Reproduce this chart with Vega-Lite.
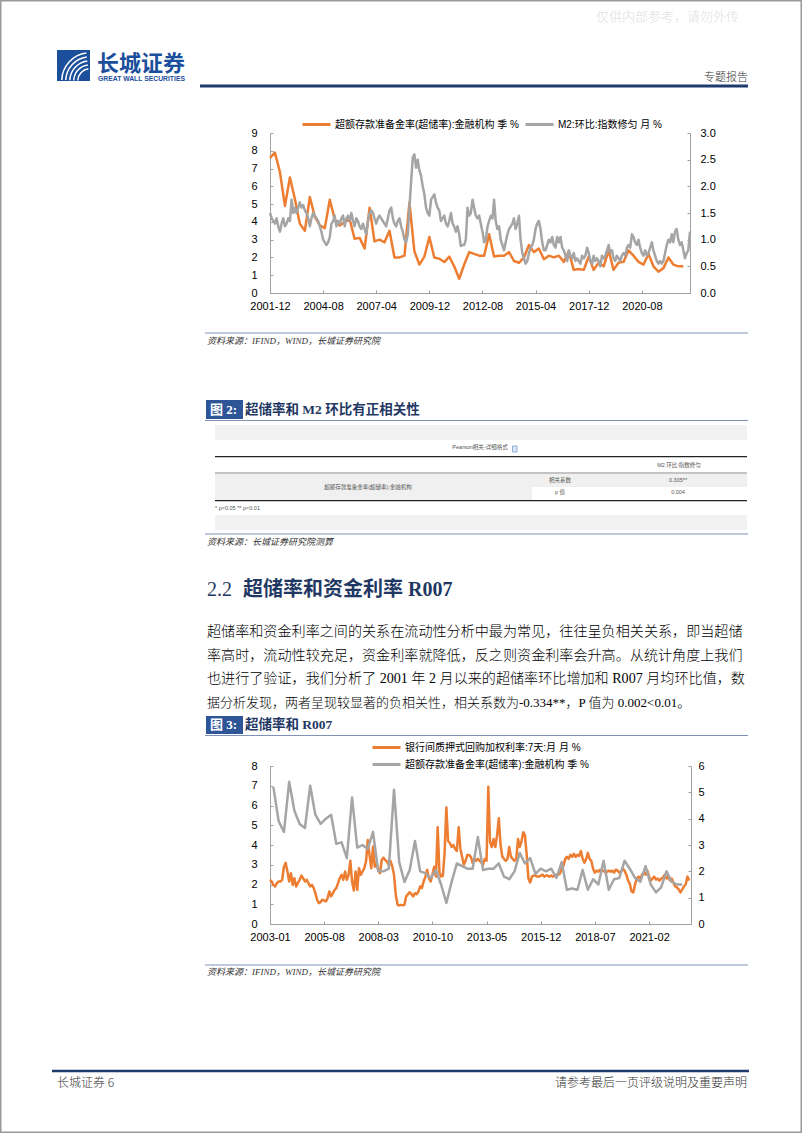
{
"$schema":"https://vega.github.io/schema/vega-lite/v6.json",
"width":802,"height":1133,"autosize":{"type":"none"},"padding":0,"background":"#ffffff",
"config":{"view":{"stroke":null}},
"datasets":{
"er":[{"t":"2001-12","v":7.6},{"t":"2002-03","v":7.9},{"t":"2002-06","v":6.8},{"t":"2002-09","v":4.9},{"t":"2002-12","v":6.5},{"t":"2003-03","v":5.3},{"t":"2003-06","v":3.9},{"t":"2003-09","v":3.5},{"t":"2003-12","v":5.4},{"t":"2004-03","v":4.3},{"t":"2004-06","v":3.8},{"t":"2004-09","v":3.65},{"t":"2004-12","v":5.25},{"t":"2005-03","v":4.15},{"t":"2005-06","v":3.8},{"t":"2005-09","v":4.0},{"t":"2005-12","v":4.15},{"t":"2006-03","v":3.05},{"t":"2006-06","v":3.1},{"t":"2006-09","v":2.5},{"t":"2006-12","v":4.8},{"t":"2007-03","v":2.9},{"t":"2007-06","v":3.0},{"t":"2007-09","v":2.85},{"t":"2007-12","v":3.5},{"t":"2008-03","v":2.0},{"t":"2008-06","v":2.0},{"t":"2008-09","v":2.1},{"t":"2008-12","v":5.1},{"t":"2009-03","v":2.35},{"t":"2009-06","v":1.6},{"t":"2009-09","v":2.05},{"t":"2009-12","v":3.15},{"t":"2010-03","v":2.0},{"t":"2010-06","v":1.93},{"t":"2010-09","v":1.74},{"t":"2010-12","v":2.05},{"t":"2011-03","v":1.5},{"t":"2011-06","v":0.8},{"t":"2011-09","v":1.6},{"t":"2011-12","v":2.3},{"t":"2012-03","v":2.2},{"t":"2012-06","v":2.1},{"t":"2012-09","v":2.1},{"t":"2012-12","v":3.3},{"t":"2013-03","v":2.05},{"t":"2013-06","v":2.1},{"t":"2013-09","v":2.1},{"t":"2013-12","v":2.3},{"t":"2014-03","v":1.8},{"t":"2014-06","v":1.7},{"t":"2014-09","v":2.0},{"t":"2014-12","v":2.7},{"t":"2015-03","v":2.3},{"t":"2015-06","v":2.5},{"t":"2015-09","v":1.9},{"t":"2015-12","v":2.1},{"t":"2016-03","v":2.0},{"t":"2016-06","v":2.1},{"t":"2016-09","v":1.75},{"t":"2016-12","v":2.35},{"t":"2017-03","v":1.3},{"t":"2017-06","v":1.35},{"t":"2017-09","v":1.3},{"t":"2017-12","v":2.05},{"t":"2018-03","v":1.3},{"t":"2018-06","v":1.7},{"t":"2018-09","v":1.5},{"t":"2018-12","v":2.4},{"t":"2019-03","v":1.3},{"t":"2019-06","v":1.7},{"t":"2019-09","v":1.75},{"t":"2019-12","v":2.4},{"t":"2020-03","v":2.1},{"t":"2020-06","v":1.75},{"t":"2020-09","v":1.6},{"t":"2020-12","v":2.2},{"t":"2021-03","v":1.5},{"t":"2021-06","v":1.2},{"t":"2021-09","v":1.4},{"t":"2021-12","v":2.0},{"t":"2022-03","v":1.6},{"t":"2022-06","v":1.5},{"t":"2022-09","v":1.5}],
"er3":[{"t":"2003-03","v":5.2},{"t":"2003-06","v":3.9},{"t":"2003-09","v":3.5},{"t":"2003-12","v":5.4},{"t":"2004-03","v":4.3},{"t":"2004-06","v":3.8},{"t":"2004-09","v":3.65},{"t":"2004-12","v":5.25},{"t":"2005-03","v":4.15},{"t":"2005-06","v":3.8},{"t":"2005-09","v":4.0},{"t":"2005-12","v":4.15},{"t":"2006-03","v":3.05},{"t":"2006-06","v":3.1},{"t":"2006-09","v":2.5},{"t":"2006-12","v":4.8},{"t":"2007-03","v":2.9},{"t":"2007-06","v":3.0},{"t":"2007-09","v":2.85},{"t":"2007-12","v":3.5},{"t":"2008-03","v":2.0},{"t":"2008-06","v":2.0},{"t":"2008-09","v":2.1},{"t":"2008-12","v":5.1},{"t":"2009-03","v":2.35},{"t":"2009-06","v":1.6},{"t":"2009-09","v":2.05},{"t":"2009-12","v":3.15},{"t":"2010-03","v":2.0},{"t":"2010-06","v":1.93},{"t":"2010-09","v":1.74},{"t":"2010-12","v":2.05},{"t":"2011-03","v":1.5},{"t":"2011-06","v":0.8},{"t":"2011-09","v":1.6},{"t":"2011-12","v":2.3},{"t":"2012-03","v":2.2},{"t":"2012-06","v":2.1},{"t":"2012-09","v":2.1},{"t":"2012-12","v":3.3},{"t":"2013-03","v":2.05},{"t":"2013-06","v":2.1},{"t":"2013-09","v":2.1},{"t":"2013-12","v":2.3},{"t":"2014-03","v":1.8},{"t":"2014-06","v":1.7},{"t":"2014-09","v":2.0},{"t":"2014-12","v":2.7},{"t":"2015-03","v":2.3},{"t":"2015-06","v":2.5},{"t":"2015-09","v":1.9},{"t":"2015-12","v":2.1},{"t":"2016-03","v":2.0},{"t":"2016-06","v":2.1},{"t":"2016-09","v":1.75},{"t":"2016-12","v":2.35},{"t":"2017-03","v":1.3},{"t":"2017-06","v":1.35},{"t":"2017-09","v":1.3},{"t":"2017-12","v":2.05},{"t":"2018-03","v":1.3},{"t":"2018-06","v":1.7},{"t":"2018-09","v":1.5},{"t":"2018-12","v":2.4},{"t":"2019-03","v":1.3},{"t":"2019-06","v":1.7},{"t":"2019-09","v":1.75},{"t":"2019-12","v":2.4},{"t":"2020-03","v":2.1},{"t":"2020-06","v":1.75},{"t":"2020-09","v":1.6},{"t":"2020-12","v":2.2},{"t":"2021-03","v":1.5},{"t":"2021-06","v":1.2},{"t":"2021-09","v":1.4},{"t":"2021-12","v":2.0},{"t":"2022-03","v":1.6},{"t":"2022-06","v":1.5},{"t":"2022-09","v":1.5}],
"m2":[{"t":"2001-12","v":1.5},{"t":"2002-01","v":1.4},{"t":"2002-02","v":1.35},{"t":"2002-03","v":1.3},{"t":"2002-04","v":1.4},{"t":"2002-05","v":1.25},{"t":"2002-06","v":1.15},{"t":"2002-07","v":1.3},{"t":"2002-08","v":1.4},{"t":"2002-09","v":1.25},{"t":"2002-10","v":1.3},{"t":"2002-11","v":1.4},{"t":"2002-12","v":1.35},
{"t":"2003-01","v":1.75},{"t":"2003-02","v":1.5},{"t":"2003-03","v":1.6},{"t":"2003-04","v":1.5},{"t":"2003-05","v":1.6},{"t":"2003-06","v":1.7},{"t":"2003-07","v":1.6},{"t":"2003-08","v":1.65},{"t":"2003-09","v":1.55},{"t":"2003-10","v":1.5},{"t":"2003-11","v":1.4},{"t":"2003-12","v":1.25},
{"t":"2004-01","v":1.4},{"t":"2004-02","v":1.5},{"t":"2004-03","v":1.45},{"t":"2004-04","v":1.4},{"t":"2004-05","v":1.35},{"t":"2004-06","v":1.25},{"t":"2004-07","v":1.15},{"t":"2004-08","v":1.0},{"t":"2004-09","v":0.95},{"t":"2004-10","v":0.9},{"t":"2004-11","v":0.95},{"t":"2004-12","v":1.05},
{"t":"2005-01","v":1.3},{"t":"2005-02","v":1.35},{"t":"2005-03","v":1.45},{"t":"2005-04","v":1.25},{"t":"2005-05","v":1.35},{"t":"2005-06","v":1.3},{"t":"2005-07","v":1.4},{"t":"2005-08","v":1.45},{"t":"2005-09","v":1.25},{"t":"2005-10","v":1.4},{"t":"2005-11","v":1.45},{"t":"2005-12","v":1.35},
{"t":"2006-01","v":1.5},{"t":"2006-02","v":1.35},{"t":"2006-03","v":1.25},{"t":"2006-04","v":1.4},{"t":"2006-05","v":1.35},{"t":"2006-06","v":1.25},{"t":"2006-07","v":1.2},{"t":"2006-08","v":1.3},{"t":"2006-09","v":1.2},{"t":"2006-10","v":1.1},{"t":"2006-11","v":1.35},{"t":"2006-12","v":1.5},
{"t":"2007-01","v":1.55},{"t":"2007-02","v":1.5},{"t":"2007-03","v":1.4},{"t":"2007-04","v":1.3},{"t":"2007-05","v":1.4},{"t":"2007-06","v":1.45},{"t":"2007-07","v":1.4},{"t":"2007-08","v":1.35},{"t":"2007-09","v":1.3},{"t":"2007-10","v":1.25},{"t":"2007-11","v":1.4},{"t":"2007-12","v":1.55},
{"t":"2008-01","v":1.6},{"t":"2008-02","v":1.4},{"t":"2008-03","v":1.3},{"t":"2008-04","v":1.25},{"t":"2008-05","v":1.35},{"t":"2008-06","v":1.4},{"t":"2008-07","v":1.25},{"t":"2008-08","v":1.15},{"t":"2008-09","v":1.0},{"t":"2008-10","v":0.95},{"t":"2008-11","v":1.1},{"t":"2008-12","v":1.6},
{"t":"2009-01","v":2.1},{"t":"2009-02","v":2.55},{"t":"2009-03","v":2.6},{"t":"2009-04","v":2.35},{"t":"2009-05","v":2.5},{"t":"2009-06","v":2.3},{"t":"2009-07","v":2.2},{"t":"2009-08","v":2.0},{"t":"2009-09","v":1.85},{"t":"2009-10","v":1.6},{"t":"2009-11","v":1.5},{"t":"2009-12","v":1.45},
{"t":"2010-01","v":1.75},{"t":"2010-02","v":1.8},{"t":"2010-03","v":1.85},{"t":"2010-04","v":1.7},{"t":"2010-05","v":1.6},{"t":"2010-06","v":1.55},{"t":"2010-07","v":1.35},{"t":"2010-08","v":1.4},{"t":"2010-09","v":1.45},{"t":"2010-10","v":1.3},{"t":"2010-11","v":1.25},{"t":"2010-12","v":1.35},
{"t":"2011-01","v":1.5},{"t":"2011-02","v":1.3},{"t":"2011-03","v":1.25},{"t":"2011-04","v":1.15},{"t":"2011-05","v":1.25},{"t":"2011-06","v":1.1},{"t":"2011-07","v":0.88},{"t":"2011-08","v":0.9},{"t":"2011-09","v":0.9},{"t":"2011-10","v":1.0},{"t":"2011-11","v":1.6},{"t":"2011-12","v":1.45},
{"t":"2012-01","v":1.5},{"t":"2012-02","v":1.75},{"t":"2012-03","v":1.6},{"t":"2012-04","v":1.45},{"t":"2012-05","v":1.4},{"t":"2012-06","v":1.45},{"t":"2012-07","v":1.3},{"t":"2012-08","v":1.15},{"t":"2012-09","v":0.95},{"t":"2012-10","v":1.0},{"t":"2012-11","v":1.25},{"t":"2012-12","v":1.35},
{"t":"2013-01","v":1.45},{"t":"2013-02","v":1.4},{"t":"2013-03","v":1.75},{"t":"2013-04","v":1.35},{"t":"2013-05","v":1.2},{"t":"2013-06","v":1.25},{"t":"2013-07","v":1.0},{"t":"2013-08","v":0.9},{"t":"2013-09","v":0.8},{"t":"2013-10","v":0.95},{"t":"2013-11","v":1.1},{"t":"2013-12","v":1.2},
{"t":"2014-01","v":1.25},{"t":"2014-02","v":1.3},{"t":"2014-03","v":1.4},{"t":"2014-04","v":1.2},{"t":"2014-05","v":1.3},{"t":"2014-06","v":1.45},{"t":"2014-07","v":1.0},{"t":"2014-08","v":0.75},{"t":"2014-09","v":0.65},{"t":"2014-10","v":0.55},{"t":"2014-11","v":0.6},{"t":"2014-12","v":0.75},
{"t":"2015-01","v":0.85},{"t":"2015-02","v":0.9},{"t":"2015-03","v":1.0},{"t":"2015-04","v":1.2},{"t":"2015-05","v":1.3},{"t":"2015-06","v":1.35},{"t":"2015-07","v":1.2},{"t":"2015-08","v":0.95},{"t":"2015-09","v":0.8},{"t":"2015-10","v":0.8},{"t":"2015-11","v":0.9},{"t":"2015-12","v":1.0},
{"t":"2016-01","v":0.95},{"t":"2016-02","v":1.05},{"t":"2016-03","v":0.9},{"t":"2016-04","v":0.85},{"t":"2016-05","v":1.05},{"t":"2016-06","v":0.95},{"t":"2016-07","v":1.05},{"t":"2016-08","v":0.85},{"t":"2016-09","v":0.8},{"t":"2016-10","v":0.7},{"t":"2016-11","v":0.6},{"t":"2016-12","v":0.8},
{"t":"2017-01","v":0.7},{"t":"2017-02","v":0.65},{"t":"2017-03","v":0.75},{"t":"2017-04","v":0.6},{"t":"2017-05","v":0.65},{"t":"2017-06","v":0.6},{"t":"2017-07","v":0.55},{"t":"2017-08","v":0.7},{"t":"2017-09","v":0.65},{"t":"2017-10","v":0.7},{"t":"2017-11","v":0.85},{"t":"2017-12","v":0.75},
{"t":"2018-01","v":0.6},{"t":"2018-02","v":0.55},{"t":"2018-03","v":0.7},{"t":"2018-04","v":0.6},{"t":"2018-05","v":0.65},{"t":"2018-06","v":0.6},{"t":"2018-07","v":0.5},{"t":"2018-08","v":0.7},{"t":"2018-09","v":0.65},{"t":"2018-10","v":0.7},{"t":"2018-11","v":0.8},{"t":"2018-12","v":0.9},
{"t":"2019-01","v":0.75},{"t":"2019-02","v":0.8},{"t":"2019-03","v":0.65},{"t":"2019-04","v":0.6},{"t":"2019-05","v":0.7},{"t":"2019-06","v":0.65},{"t":"2019-07","v":0.6},{"t":"2019-08","v":0.7},{"t":"2019-09","v":0.75},{"t":"2019-10","v":0.7},{"t":"2019-11","v":0.85},{"t":"2019-12","v":0.9},
{"t":"2020-01","v":0.85},{"t":"2020-02","v":1.1},{"t":"2020-03","v":1.05},{"t":"2020-04","v":0.95},{"t":"2020-05","v":0.9},{"t":"2020-06","v":1.0},{"t":"2020-07","v":0.85},{"t":"2020-08","v":0.75},{"t":"2020-09","v":0.7},{"t":"2020-10","v":0.8},{"t":"2020-11","v":0.7},{"t":"2020-12","v":0.75},
{"t":"2021-01","v":0.85},{"t":"2021-02","v":0.95},{"t":"2021-03","v":0.8},{"t":"2021-04","v":0.7},{"t":"2021-05","v":0.6},{"t":"2021-06","v":0.55},{"t":"2021-07","v":0.6},{"t":"2021-08","v":0.55},{"t":"2021-09","v":0.6},{"t":"2021-10","v":0.75},{"t":"2021-11","v":0.9},{"t":"2021-12","v":1.0},
{"t":"2022-01","v":0.95},{"t":"2022-02","v":1.1},{"t":"2022-03","v":0.95},{"t":"2022-04","v":1.15},{"t":"2022-05","v":1.2},{"t":"2022-06","v":1.0},{"t":"2022-07","v":0.9},{"t":"2022-08","v":0.95},{"t":"2022-09","v":0.8},{"t":"2022-10","v":0.65},{"t":"2022-11","v":0.75},{"t":"2022-12","v":0.8},{"t":"2023-01","v":1.15}],
"r007":[{"t":"2003-01","v":2.24},{"t":"2003-02","v":2.15},{"t":"2003-03","v":1.98},{"t":"2003-04","v":1.9},{"t":"2003-05","v":2.07},{"t":"2003-06","v":2.15},{"t":"2003-07","v":2.15},{"t":"2003-08","v":2.24},{"t":"2003-09","v":2.9},{"t":"2003-10","v":3.1},{"t":"2003-11","v":2.66},{"t":"2003-12","v":2.15},
{"t":"2004-01","v":2.57},{"t":"2004-02","v":1.98},{"t":"2004-03","v":2.32},{"t":"2004-04","v":1.9},{"t":"2004-05","v":2.07},{"t":"2004-06","v":2.24},{"t":"2004-07","v":2.45},{"t":"2004-08","v":2.32},{"t":"2004-09","v":2.15},{"t":"2004-10","v":2.24},{"t":"2004-11","v":2.07},{"t":"2004-12","v":1.9},
{"t":"2005-01","v":1.98},{"t":"2005-02","v":1.82},{"t":"2005-03","v":1.56},{"t":"2005-04","v":1.23},{"t":"2005-05","v":1.06},{"t":"2005-06","v":1.11},{"t":"2005-07","v":1.23},{"t":"2005-08","v":1.19},{"t":"2005-09","v":1.14},{"t":"2005-10","v":1.31},{"t":"2005-11","v":1.65},{"t":"2005-12","v":1.4},
{"t":"2006-01","v":1.56},{"t":"2006-02","v":1.73},{"t":"2006-03","v":1.82},{"t":"2006-04","v":2.07},{"t":"2006-05","v":2.32},{"t":"2006-06","v":2.49},{"t":"2006-07","v":2.24},{"t":"2006-08","v":2.66},{"t":"2006-09","v":2.24},{"t":"2006-10","v":2.49},{"t":"2006-11","v":3.2},{"t":"2006-12","v":2.15},
{"t":"2007-01","v":1.7},{"t":"2007-02","v":2.66},{"t":"2007-03","v":1.73},{"t":"2007-04","v":2.82},{"t":"2007-05","v":2.49},{"t":"2007-06","v":2.66},{"t":"2007-07","v":2.82},{"t":"2007-08","v":3.16},{"t":"2007-09","v":4.25},{"t":"2007-10","v":3.5},{"t":"2007-11","v":2.82},{"t":"2007-12","v":3.92},
{"t":"2008-01","v":2.9},{"t":"2008-02","v":3.08},{"t":"2008-03","v":2.74},{"t":"2008-04","v":2.57},{"t":"2008-05","v":3.24},{"t":"2008-06","v":3.36},{"t":"2008-07","v":3.24},{"t":"2008-08","v":3.16},{"t":"2008-09","v":2.99},{"t":"2008-10","v":3.19},{"t":"2008-11","v":2.9},{"t":"2008-12","v":2.49},
{"t":"2009-01","v":1.48},{"t":"2009-02","v":0.97},{"t":"2009-03","v":0.94},{"t":"2009-04","v":0.97},{"t":"2009-05","v":0.94},{"t":"2009-06","v":0.97},{"t":"2009-07","v":1.4},{"t":"2009-08","v":1.51},{"t":"2009-09","v":1.61},{"t":"2009-10","v":1.51},{"t":"2009-11","v":1.4},{"t":"2009-12","v":1.56},
{"t":"2010-01","v":1.51},{"t":"2010-02","v":1.65},{"t":"2010-03","v":1.9},{"t":"2010-04","v":1.82},{"t":"2010-05","v":2.15},{"t":"2010-06","v":2.4},{"t":"2010-07","v":2.74},{"t":"2010-08","v":2.32},{"t":"2010-09","v":2.15},{"t":"2010-10","v":2.5},{"t":"2010-11","v":2.9},{"t":"2010-12","v":2.4},
{"t":"2011-01","v":4.9},{"t":"2011-02","v":2.6},{"t":"2011-03","v":2.4},{"t":"2011-04","v":2.45},{"t":"2011-05","v":3.6},{"t":"2011-06","v":5.9},{"t":"2011-07","v":4.2},{"t":"2011-08","v":4.1},{"t":"2011-09","v":3.9},{"t":"2011-10","v":4.0},{"t":"2011-11","v":3.8},{"t":"2011-12","v":3.7},
{"t":"2012-01","v":4.9},{"t":"2012-02","v":3.8},{"t":"2012-03","v":3.4},{"t":"2012-04","v":3.0},{"t":"2012-05","v":3.2},{"t":"2012-06","v":3.5},{"t":"2012-07","v":3.5},{"t":"2012-08","v":3.4},{"t":"2012-09","v":3.1},{"t":"2012-10","v":3.3},{"t":"2012-11","v":3.2},{"t":"2012-12","v":3.3},
{"t":"2013-01","v":3.2},{"t":"2013-02","v":3.1},{"t":"2013-03","v":3.0},{"t":"2013-04","v":3.3},{"t":"2013-05","v":3.2},{"t":"2013-06","v":6.95},{"t":"2013-07","v":4.15},{"t":"2013-08","v":3.9},{"t":"2013-09","v":4.3},{"t":"2013-10","v":3.9},{"t":"2013-11","v":4.5},{"t":"2013-12","v":5.35},
{"t":"2014-01","v":4.0},{"t":"2014-02","v":3.4},{"t":"2014-03","v":3.3},{"t":"2014-04","v":3.2},{"t":"2014-05","v":3.3},{"t":"2014-06","v":3.9},{"t":"2014-07","v":3.4},{"t":"2014-08","v":3.3},{"t":"2014-09","v":3.2},{"t":"2014-10","v":3.3},{"t":"2014-11","v":4.3},{"t":"2014-12","v":3.9},
{"t":"2015-01","v":4.2},{"t":"2015-02","v":4.65},{"t":"2015-03","v":4.5},{"t":"2015-04","v":3.5},{"t":"2015-05","v":2.3},{"t":"2015-06","v":2.1},{"t":"2015-07","v":2.4},{"t":"2015-08","v":2.45},{"t":"2015-09","v":2.45},{"t":"2015-10","v":2.4},{"t":"2015-11","v":2.4},{"t":"2015-12","v":2.45},
{"t":"2016-01","v":2.5},{"t":"2016-02","v":2.4},{"t":"2016-03","v":2.45},{"t":"2016-04","v":2.45},{"t":"2016-05","v":2.4},{"t":"2016-06","v":2.45},{"t":"2016-07","v":2.4},{"t":"2016-08","v":2.45},{"t":"2016-09","v":2.5},{"t":"2016-10","v":2.5},{"t":"2016-11","v":2.55},{"t":"2016-12","v":2.8},
{"t":"2017-01","v":2.95},{"t":"2017-02","v":3.3},{"t":"2017-03","v":3.4},{"t":"2017-04","v":3.3},{"t":"2017-05","v":3.5},{"t":"2017-06","v":3.4},{"t":"2017-07","v":3.55},{"t":"2017-08","v":3.4},{"t":"2017-09","v":3.5},{"t":"2017-10","v":3.45},{"t":"2017-11","v":3.7},{"t":"2017-12","v":3.3},
{"t":"2018-01","v":3.1},{"t":"2018-02","v":3.3},{"t":"2018-03","v":3.6},{"t":"2018-04","v":3.3},{"t":"2018-05","v":3.2},{"t":"2018-06","v":2.8},{"t":"2018-07","v":2.6},{"t":"2018-08","v":2.7},{"t":"2018-09","v":2.65},{"t":"2018-10","v":2.75},{"t":"2018-11","v":2.7},{"t":"2018-12","v":2.7},
{"t":"2019-01","v":2.6},{"t":"2019-02","v":2.65},{"t":"2019-03","v":2.7},{"t":"2019-04","v":2.65},{"t":"2019-05","v":2.7},{"t":"2019-06","v":2.6},{"t":"2019-07","v":2.75},{"t":"2019-08","v":2.7},{"t":"2019-09","v":2.6},{"t":"2019-10","v":2.65},{"t":"2019-11","v":2.8},{"t":"2019-12","v":2.7},
{"t":"2020-01","v":2.5},{"t":"2020-02","v":2.2},{"t":"2020-03","v":2.05},{"t":"2020-04","v":1.65},{"t":"2020-05","v":1.6},{"t":"2020-06","v":2.0},{"t":"2020-07","v":2.3},{"t":"2020-08","v":2.4},{"t":"2020-09","v":2.3},{"t":"2020-10","v":2.5},{"t":"2020-11","v":2.6},{"t":"2020-12","v":2.5},
{"t":"2021-01","v":2.7},{"t":"2021-02","v":2.4},{"t":"2021-03","v":2.2},{"t":"2021-04","v":2.3},{"t":"2021-05","v":2.4},{"t":"2021-06","v":2.25},{"t":"2021-07","v":2.3},{"t":"2021-08","v":2.2},{"t":"2021-09","v":2.3},{"t":"2021-10","v":2.35},{"t":"2021-11","v":2.5},{"t":"2021-12","v":2.3},
{"t":"2022-01","v":2.4},{"t":"2022-02","v":2.2},{"t":"2022-03","v":2.3},{"t":"2022-04","v":2.1},{"t":"2022-05","v":1.9},{"t":"2022-06","v":1.85},{"t":"2022-07","v":1.75},{"t":"2022-08","v":1.6},{"t":"2022-09","v":1.75},{"t":"2022-10","v":1.9},{"t":"2022-11","v":2.0},{"t":"2022-12","v":2.4},{"t":"2023-01","v":2.2}]
},
"layer":[
{"data":{"values":[{}]},"mark":{"type":"rect","x":0.75,"x2":801.25,"y":0.75,"y2":1132.25,"filled":false,"color":"#9a9a9a","strokeWidth":1.5},"encoding":{}},
{"data":{"values":[{"s":"仅供内部参考，请勿外传"}]},"mark":{"type":"text","x":739,"y":17,"align":"right","baseline":"middle","font":"Noto Sans CJK SC","fontSize":13,"fontWeight":300,"color":"#e0e0e0"},"encoding":{"text":{"field":"s"}}},
{"data":{"values":[{}]},"mark":{"type":"rect","x":57,"x2":90,"y":50,"y2":81,"color":"#1b4f9c"},"encoding":{}},
{"data":{"values":[{}]},"mark":{"type":"arc","x":90,"y":81,"radius":29,"radius2":27.5,"theta":4.75,"theta2":6.15,"color":"#ffffff"},"encoding":{}},
{"data":{"values":[{}]},"mark":{"type":"arc","x":90,"y":81,"radius":25,"radius2":23.5,"theta":4.75,"theta2":6.15,"color":"#ffffff"},"encoding":{}},
{"data":{"values":[{}]},"mark":{"type":"arc","x":90,"y":81,"radius":21,"radius2":19.5,"theta":4.75,"theta2":6.15,"color":"#ffffff"},"encoding":{}},
{"data":{"values":[{}]},"mark":{"type":"arc","x":90,"y":81,"radius":17,"radius2":15.5,"theta":4.75,"theta2":6.15,"color":"#ffffff"},"encoding":{}},
{"data":{"values":[{}]},"mark":{"type":"arc","x":90,"y":81,"radius":13,"radius2":11.5,"theta":4.75,"theta2":6.15,"color":"#ffffff"},"encoding":{}},
{"data":{"values":[{"s":"长城证券"}]},"mark":{"type":"text","x":97,"y":64,"align":"left","baseline":"middle","font":"Noto Sans CJK SC","fontSize":22,"fontWeight":"bold","color":"#1b4f9c"},"encoding":{"text":{"field":"s"}}},
{"data":{"values":[{"s":"GREAT WALL SECURITIES"}]},"mark":{"type":"text","x":98,"y":79,"align":"left","baseline":"middle","font":"Liberation Sans","fontSize":6.8,"fontWeight":"bold","color":"#1b4f9c"},"encoding":{"text":{"field":"s"}}},
{"data":{"values":[{"s":"专题报告"}]},"mark":{"type":"text","x":748,"y":78,"align":"right","baseline":"middle","font":"Noto Sans CJK SC","fontSize":11,"fontWeight":300,"color":"#333333"},"encoding":{"text":{"field":"s"}}},
{"data":{"values":[{}]},"mark":{"type":"rect","x":200,"x2":748,"y":84.5,"y2":87.5,"color":"#1f3a6e"},"encoding":{}},

{"data":{"name":"er"},"mark":{"type":"line","strokeWidth":2.5,"strokeJoin":"round"},
 "encoding":{
  "x":{"field":"t","type":"temporal","scale":{"type":"utc","domain":[{"year":2001,"month":12,"date":1,"utc":true},{"year":2023,"month":1,"date":1,"utc":true}],"range":[270,690]},
       "axis":{"orient":"bottom","offset":-840,"title":null,"grid":false,"format":"%Y-%m","values":[{"year":2001,"month":12,"date":1,"utc":true},{"year":2004,"month":8,"date":1,"utc":true},{"year":2007,"month":4,"date":1,"utc":true},{"year":2009,"month":12,"date":1,"utc":true},{"year":2012,"month":8,"date":1,"utc":true},{"year":2015,"month":4,"date":1,"utc":true},{"year":2017,"month":12,"date":1,"utc":true},{"year":2020,"month":8,"date":1,"utc":true}],
               "labelFont":"Liberation Sans","labelFontSize":11,"labelColor":"#000000","domainColor":"#a0a0a0","tickColor":"#a0a0a0","tickSize":-3,"labelPadding":10.5,"labelOverlap":false,"labelFlush":false}},
  "y":{"field":"v","type":"quantitative","scale":{"domain":[0,9],"range":[293,133],"nice":false,"zero":false},
       "axis":{"orient":"left","offset":-270,"title":null,"grid":false,"values":[0,1,2,3,4,5,6,7,8,9],"format":"d","labelFont":"Liberation Sans","labelFontSize":11,"labelColor":"#000000","domainColor":"#a0a0a0","tickColor":"#a0a0a0","tickSize":-3,"labelPadding":16}},
  "color":{"datum":"超额存款准备金率(超储率):金融机构 季 %","scale":{"range":["#ED7D31"]},
       "legend":{"title":null,"orient":"none","legendX":301,"legendY":109,"symbolType":"stroke","symbolSize":784,"symbolStrokeWidth":3,"labelFont":"Liberation Sans, Noto Sans CJK SC","labelFontSize":10,"labelColor":"#000000","labelOffset":3,"padding":0,"labelLimit":400}}
 }},
{"data":{"name":"m2"},"mark":{"type":"line","strokeWidth":2.5,"strokeJoin":"round"},
 "encoding":{
  "x":{"field":"t","type":"temporal","scale":{"type":"utc","domain":[{"year":2001,"month":12,"date":1,"utc":true},{"year":2023,"month":1,"date":1,"utc":true}],"range":[270,690]},"axis":null},
  "y":{"field":"v","type":"quantitative","scale":{"domain":[0,3],"range":[293,133],"nice":false,"zero":false},
       "axis":{"orient":"right","offset":-112,"title":null,"grid":false,"values":[0,0.5,1,1.5,2,2.5,3],"format":".1f","labelFont":"Liberation Sans","labelFontSize":11,"labelColor":"#000000","domainColor":"#a0a0a0","tickColor":"#a0a0a0","tickSize":-3,"labelPadding":13}},
  "color":{"datum":"M2:环比:指数修匀 月 %","scale":{"range":["#A5A5A5"]},
       "legend":{"title":null,"orient":"none","legendX":524,"legendY":109,"symbolType":"stroke","symbolSize":784,"symbolStrokeWidth":3,"labelFont":"Liberation Sans, Noto Sans CJK SC","labelFontSize":10,"labelColor":"#000000","labelOffset":3,"padding":0,"labelLimit":400}}
 }},

{"data":{"values":[{}]},"mark":{"type":"rect","x":205,"x2":748,"y":332.4,"y2":333.6,"color":"#7f93b5"},"encoding":{}},
{"data":{"values":[{"s":"资料来源：IFIND，WIND，长城证券研究院"}]},"mark":{"type":"text","x":207,"y":341,"align":"left","baseline":"middle","font":"Liberation Serif, Noto Sans CJK SC","fontSize":9,"fontStyle":"italic","color":"#333333"},"encoding":{"text":{"field":"s"}}},

{"data":{"values":[{}]},"mark":{"type":"rect","x":206,"x2":243,"y":400,"y2":419,"color":"#2e5597"},"encoding":{}},
{"data":{"values":[{"s":"图 2:"}]},"mark":{"type":"text","x":210,"y":410,"align":"left","baseline":"middle","font":"Liberation Serif, Noto Sans CJK SC","fontSize":13,"fontWeight":"bold","color":"#ffffff"},"encoding":{"text":{"field":"s"}}},
{"data":{"values":[{"s":"超储率和 M2 环比有正相关性"}]},"mark":{"type":"text","x":245,"y":410,"align":"left","baseline":"middle","font":"Liberation Serif, Noto Sans CJK SC","fontSize":13.5,"fontWeight":"bold","color":"#1f3864"},"encoding":{"text":{"field":"s"}}},
{"data":{"values":[{}]},"mark":{"type":"rect","x":205,"x2":748,"y":419.9,"y2":421.1,"color":"#7f93b5"},"encoding":{}},

{"data":{"values":[{}]},"mark":{"type":"rect","x":215,"x2":747,"y":425,"y2":440,"color":"#f2f2f2"},"encoding":{}},
{"data":{"values":[{"s":"Pearson相关-详细格式"}]},"mark":{"type":"text","x":480,"y":447,"align":"center","baseline":"middle","font":"Liberation Sans, Noto Sans CJK SC","fontSize":5.5,"color":"#555555"},"encoding":{"text":{"field":"s"}}},
{"data":{"values":[{}]},"mark":{"type":"rect","x":512.5,"x2":517,"y":446,"y2":452,"color":"#dbe6f4","stroke":"#7a9fd0","strokeWidth":0.8},"encoding":{}},
{"data":{"values":[{}]},"mark":{"type":"rect","x":215,"x2":747,"y":455.9,"y2":457.2,"color":"#222222"},"encoding":{}},
{"data":{"values":[{"s":"M2 环比:指数修匀"}]},"mark":{"type":"text","x":679,"y":465,"align":"center","baseline":"middle","font":"Liberation Sans, Noto Sans CJK SC","fontSize":5.5,"color":"#555555"},"encoding":{"text":{"field":"s"}}},
{"data":{"values":[{}]},"mark":{"type":"rect","x":215,"x2":747,"y":473,"y2":500,"color":"#f0f0f0"},"encoding":{}},
{"data":{"values":[{}]},"mark":{"type":"rect","x":215,"x2":747,"y":472,"y2":474,"color":"#c4c4c4"},"encoding":{}},
{"data":{"values":[{}]},"mark":{"type":"rect","x":532,"x2":747,"y":487,"y2":500,"color":"#ffffff"},"encoding":{}},
{"data":{"values":[{"s":"超额存款准备金率(超储率):金融机构"}]},"mark":{"type":"text","x":368,"y":487,"align":"center","baseline":"middle","font":"Liberation Sans, Noto Sans CJK SC","fontSize":5.5,"color":"#555555"},"encoding":{"text":{"field":"s"}}},
{"data":{"values":[{"s":"相关系数"}]},"mark":{"type":"text","x":560,"y":479.5,"align":"center","baseline":"middle","font":"Liberation Sans, Noto Sans CJK SC","fontSize":5.5,"color":"#555555"},"encoding":{"text":{"field":"s"}}},
{"data":{"values":[{"s":"0.305**"}]},"mark":{"type":"text","x":678,"y":479.5,"align":"center","baseline":"middle","font":"Liberation Sans, Noto Sans CJK SC","fontSize":5.5,"color":"#555555"},"encoding":{"text":{"field":"s"}}},
{"data":{"values":[{"s":"p 值"}]},"mark":{"type":"text","x":560,"y":492,"align":"center","baseline":"middle","font":"Liberation Sans, Noto Sans CJK SC","fontSize":5.5,"color":"#555555"},"encoding":{"text":{"field":"s"}}},
{"data":{"values":[{"s":"0.004"}]},"mark":{"type":"text","x":678,"y":492,"align":"center","baseline":"middle","font":"Liberation Sans, Noto Sans CJK SC","fontSize":5.5,"color":"#555555"},"encoding":{"text":{"field":"s"}}},
{"data":{"values":[{}]},"mark":{"type":"rect","x":215,"x2":747,"y":499.9,"y2":501.2,"color":"#222222"},"encoding":{}},
{"data":{"values":[{"s":"* p<0.05 ** p<0.01"}]},"mark":{"type":"text","x":215,"y":508,"align":"left","baseline":"middle","font":"Liberation Sans","fontSize":5.5,"color":"#555555"},"encoding":{"text":{"field":"s"}}},
{"data":{"values":[{}]},"mark":{"type":"rect","x":215,"x2":747,"y":515,"y2":530,"color":"#f2f2f2"},"encoding":{}},
{"data":{"values":[{}]},"mark":{"type":"rect","x":205,"x2":748,"y":533.4,"y2":534.6,"color":"#7f93b5"},"encoding":{}},
{"data":{"values":[{"s":"资料来源：长城证券研究院测算"}]},"mark":{"type":"text","x":207,"y":541.5,"align":"left","baseline":"middle","font":"Liberation Serif, Noto Sans CJK SC","fontSize":9,"fontStyle":"italic","color":"#333333"},"encoding":{"text":{"field":"s"}}},

{"data":{"values":[{"s":"2.2"}]},"mark":{"type":"text","x":207,"y":590,"align":"left","baseline":"middle","font":"Liberation Serif","fontSize":20,"color":"#1f3864"},"encoding":{"text":{"field":"s"}}},
{"data":{"values":[{"s":"超储率和资金利率 R007"}]},"mark":{"type":"text","x":243,"y":590,"align":"left","baseline":"middle","font":"Liberation Serif, Noto Sans CJK SC","fontSize":20,"fontWeight":"bold","color":"#1f3864"},"encoding":{"text":{"field":"s"}}},

{"data":{"values":[{"s":"超储率和资金利率之间的关系在流动性分析中最为常见，往往呈负相关关系，即当超储"}]},"mark":{"type":"text","x":207,"y":632,"align":"left","baseline":"middle","font":"Liberation Serif, Noto Sans CJK SC","fontSize":14.1,"fontWeight":300,"color":"#000000"},"encoding":{"text":{"field":"s"}}},
{"data":{"values":[{"s":"率高时，流动性较充足，资金利率就降低，反之则资金利率会升高。从统计角度上我们"}]},"mark":{"type":"text","x":207,"y":655.5,"align":"left","baseline":"middle","font":"Liberation Serif, Noto Sans CJK SC","fontSize":14.1,"fontWeight":300,"color":"#000000"},"encoding":{"text":{"field":"s"}}},
{"data":{"values":[{"s":"也进行了验证，我们分析了 2001 年 2 月以来的超储率环比增加和 R007 月均环比值，数"}]},"mark":{"type":"text","x":207,"y":679,"align":"left","baseline":"middle","font":"Liberation Serif, Noto Sans CJK SC","fontSize":14.1,"fontWeight":300,"color":"#000000"},"encoding":{"text":{"field":"s"}}},
{"data":{"values":[{"s":"据分析发现，两者呈现较显著的负相关性，相关系数为-0.334**，P 值为 0.002<0.01。"}]},"mark":{"type":"text","x":207,"y":702.5,"align":"left","baseline":"middle","font":"Liberation Serif, Noto Sans CJK SC","fontSize":13.0,"fontWeight":300,"color":"#000000"},"encoding":{"text":{"field":"s"}}},

{"data":{"values":[{}]},"mark":{"type":"rect","x":206,"x2":243,"y":716,"y2":734,"color":"#2e5597"},"encoding":{}},
{"data":{"values":[{"s":"图 3:"}]},"mark":{"type":"text","x":210,"y":725,"align":"left","baseline":"middle","font":"Liberation Serif, Noto Sans CJK SC","fontSize":13,"fontWeight":"bold","color":"#ffffff"},"encoding":{"text":{"field":"s"}}},
{"data":{"values":[{"s":"超储率和 R007"}]},"mark":{"type":"text","x":245,"y":725,"align":"left","baseline":"middle","font":"Liberation Serif, Noto Sans CJK SC","fontSize":13.5,"fontWeight":"bold","color":"#1f3864"},"encoding":{"text":{"field":"s"}}},
{"data":{"values":[{}]},"mark":{"type":"rect","x":205,"x2":748,"y":734.9,"y2":736.1,"color":"#7f93b5"},"encoding":{}},

{"data":{"name":"r007"},"mark":{"type":"line","strokeWidth":2.5,"strokeJoin":"round"},
 "encoding":{
  "x":{"field":"t","type":"temporal","scale":{"type":"utc","domain":[{"year":2003,"month":1,"date":1,"utc":true},{"year":2023,"month":2,"date":1,"utc":true}],"range":[270,691]},
       "axis":{"orient":"bottom","offset":-209,"title":null,"grid":false,"format":"%Y-%m","values":[{"year":2003,"month":1,"date":1,"utc":true},{"year":2005,"month":8,"date":1,"utc":true},{"year":2008,"month":3,"date":1,"utc":true},{"year":2010,"month":10,"date":1,"utc":true},{"year":2013,"month":5,"date":1,"utc":true},{"year":2015,"month":12,"date":1,"utc":true},{"year":2018,"month":7,"date":1,"utc":true},{"year":2021,"month":2,"date":1,"utc":true}],
               "labelFont":"Liberation Sans","labelFontSize":11,"labelColor":"#000000","domainColor":"#a0a0a0","tickColor":"#a0a0a0","tickSize":-3,"labelPadding":10,"labelOverlap":false,"labelFlush":false}},
  "y":{"field":"v","type":"quantitative","scale":{"domain":[0,8],"range":[924,766],"nice":false,"zero":false},
       "axis":{"orient":"left","offset":-270,"title":null,"grid":false,"values":[0,1,2,3,4,5,6,7,8],"format":"d","labelFont":"Liberation Sans","labelFontSize":11,"labelColor":"#000000","domainColor":"#a0a0a0","tickColor":"#a0a0a0","tickSize":-3,"labelPadding":16}},
  "color":{"datum":"银行间质押式回购加权利率:7天:月 月 %","scale":{"range":["#ED7D31"]},
       "legend":{"title":null,"orient":"none","legendX":371,"legendY":732,"symbolType":"stroke","symbolSize":784,"symbolStrokeWidth":3,"labelFont":"Liberation Sans, Noto Sans CJK SC","labelFontSize":10,"labelColor":"#000000","labelOffset":3,"padding":0,"labelLimit":400}}
 }},
{"data":{"name":"er3"},"mark":{"type":"line","strokeWidth":2.5,"strokeJoin":"round"},
 "encoding":{
  "x":{"field":"t","type":"temporal","scale":{"type":"utc","domain":[{"year":2003,"month":1,"date":1,"utc":true},{"year":2023,"month":2,"date":1,"utc":true}],"range":[270,691]},"axis":null},
  "y":{"field":"v","type":"quantitative","scale":{"domain":[0,6],"range":[924,766],"nice":false,"zero":false},
       "axis":{"orient":"right","offset":-111,"title":null,"grid":false,"values":[0,1,2,3,4,5,6],"format":"d","labelFont":"Liberation Sans","labelFontSize":11,"labelColor":"#000000","domainColor":"#a0a0a0","tickColor":"#a0a0a0","tickSize":-3,"labelPadding":10}},
  "color":{"datum":"超额存款准备金率(超储率):金融机构 季 %","scale":{"range":["#A5A5A5"]},
       "legend":{"title":null,"orient":"none","legendX":371,"legendY":749,"symbolType":"stroke","symbolSize":784,"symbolStrokeWidth":3,"labelFont":"Liberation Sans, Noto Sans CJK SC","labelFontSize":10,"labelColor":"#000000","labelOffset":3,"padding":0,"labelLimit":400}}
 }},

{"data":{"values":[{}]},"mark":{"type":"rect","x":205,"x2":748,"y":964.4,"y2":965.6,"color":"#7f93b5"},"encoding":{}},
{"data":{"values":[{"s":"资料来源：IFIND，WIND，长城证券研究院"}]},"mark":{"type":"text","x":207,"y":972,"align":"left","baseline":"middle","font":"Liberation Serif, Noto Sans CJK SC","fontSize":9,"fontStyle":"italic","color":"#333333"},"encoding":{"text":{"field":"s"}}},

{"data":{"values":[{}]},"mark":{"type":"rect","x":52,"x2":749,"y":1069.8,"y2":1072.3,"color":"#1f3a6e"},"encoding":{}},
{"data":{"values":[{"s":"长城证券 6"}]},"mark":{"type":"text","x":57,"y":1083,"align":"left","baseline":"middle","font":"Noto Sans CJK SC","fontSize":12,"fontWeight":300,"color":"#333333"},"encoding":{"text":{"field":"s"}}},
{"data":{"values":[{"s":"请参考最后一页评级说明及重要声明"}]},"mark":{"type":"text","x":747,"y":1083,"align":"right","baseline":"middle","font":"Noto Sans CJK SC","fontSize":12,"fontWeight":300,"color":"#333333"},"encoding":{"text":{"field":"s"}}}
],
"resolve":{"scale":{"x":"independent","y":"independent","color":"independent"},"axis":{"x":"independent","y":"independent"},"legend":{"color":"independent"}}
}
